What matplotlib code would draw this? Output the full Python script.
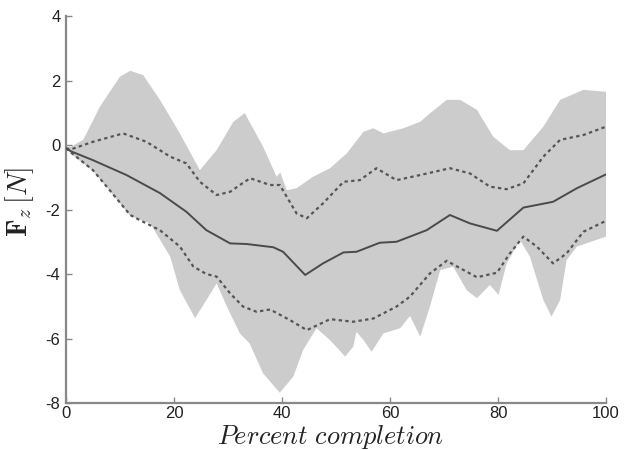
import numpy as np
import matplotlib
matplotlib.use("Agg")
import matplotlib.pyplot as plt

# mean force trace
x_mean = [0, 1, 5, 11.2, 17.4, 22.3, 26, 30.4, 33.5, 38.4, 40.2, 44.3, 47.6, 51.4,
          53.8, 58.1, 61.2, 63.7, 66.8, 71.1, 74.8, 79.8, 84.7, 90.2, 94.6, 100]
y_mean = [-0.1, -0.2, -0.47, -0.93, -1.49, -2.07, -2.64, -3.05, -3.07, -3.17, -3.31, -4.03, -3.67, -3.33,
          -3.31, -3.03, -3.0, -2.84, -2.64, -2.17, -2.43, -2.66, -1.94, -1.76, -1.34, -0.91]

# upper dotted (mean + std)
x_up = [0, 1, 5, 10.6, 14.9, 19.3, 22.3, 24.8, 27.9, 30.4, 32.2, 34.1, 37.8, 39.6, 42.7, 44.6,
        47.6, 51.4, 54.4, 57.5, 61.2, 65.6, 71.1, 74.8, 78.5, 81.6, 84.7, 88.4, 91.5, 95.8, 100]
y_up = [-0.1, -0.13, 0.1, 0.36, 0.1, -0.36, -0.57, -1.14, -1.55, -1.45, -1.24, -1.03, -1.24, -1.24, -2.12, -2.27,
        -1.81, -1.14, -1.09, -0.72, -1.09, -0.93, -0.72, -0.88, -1.29, -1.37, -1.19, -0.36, 0.16, 0.31, 0.57]

# lower dotted (mean - std)
x_lo = [0, 1, 5, 8.1, 11.9, 13.7, 17.4, 21.1, 23.6, 26, 27.9, 30.4, 32.8, 35.3, 37.8, 41.5, 44.6,
        48.9, 53.2, 56.9, 61.2, 63.7, 67.4, 70.5, 73, 76.1, 79.8, 82.2, 84.7, 87.2, 90.2, 92.7, 95.8, 100]
y_lo = [-0.1, -0.24, -0.78, -1.4, -2.17, -2.33, -2.64, -3.15, -3.77, -4.0, -4.08, -4.6, -5.01, -5.17, -5.1, -5.43, -5.74,
        -5.4, -5.48, -5.38, -5.01, -4.7, -3.98, -3.59, -3.82, -4.1, -3.96, -3.36, -2.84, -3.15, -3.67, -3.36, -2.69, -2.35]

# shaded range, upper edge
x_band_hi = [0, 1, 3.2, 6.3, 10, 11.9, 14.3, 17.4, 21.1, 24.8, 27.9, 31, 33.1, 36.5, 39, 39.7, 40.1,
             40.9, 42.7, 45.8, 48.9, 52, 55.1, 56.9, 58.8, 62.5, 65.6, 67.4, 70.5, 73, 76.1,
             79.1, 82.2, 84.7, 88.4, 91.5, 95.8, 100]
y_band_hi = [-0.1, -0.05, 0.16, 1.19, 2.12, 2.3, 2.17, 1.4, 0.36, -0.78, -0.16, 0.72, 0.99, -0.05, -0.98, -0.85, -1.05,
             -1.4, -1.34, -0.98, -0.72, -0.26, 0.41, 0.52, 0.36, 0.52, 0.72, 0.98, 1.4, 1.4, 1.09,
             0.26, -0.16, -0.16, 0.57, 1.4, 1.71, 1.65]

# shaded range, lower edge
x_band_lo = [0, 1, 5, 8.1, 11.9, 15.6, 19.3, 21.1, 23.9, 26, 27.9, 29.8, 32.2, 34, 36.5, 39.6, 42.1,
             43.9, 46.4, 48.9, 51.7, 53.2, 53.8, 55.1, 56.6, 58.8, 61.9, 63.7, 65.6, 67.4, 69.3,
             71.7, 74.2, 76.1, 78.5, 80.1, 81.6, 84.1, 85.9, 88.4, 89.9, 91.5, 92.7, 94.6, 100]
y_band_lo = [-0.1, -0.28, -0.8, -1.42, -2.2, -2.43, -3.46, -4.5, -5.37, -4.81, -4.29, -5.01, -5.84, -6.15, -7.08, -7.68, -7.18,
             -6.36, -5.68, -6.05, -6.56, -6.25, -5.79, -6.05, -6.41, -5.84, -5.68, -5.3, -5.94, -5.01, -3.88,
             -3.77, -4.5, -4.75, -4.34, -4.65, -3.67, -2.95, -3.46, -4.81, -5.32, -4.81, -3.57, -3.15, -2.84]

plt.rcParams['mathtext.fontset'] = 'cm'
plt.rcParams['font.family'] = ['Liberation Sans', 'DejaVu Sans']
plt.rcParams['axes.unicode_minus'] = False

fig = plt.figure(figsize=(6.28, 4.5), dpi=100)
ax = fig.add_axes([0.105, 0.1044, 0.86, 0.86])

ax.fill(np.r_[x_band_hi, x_band_lo[::-1]], np.r_[y_band_hi, y_band_lo[::-1]],
        color='#cccccc', lw=0, zorder=1)
ax.plot(x_up, y_up, color='#555555', lw=1.6, ls=(0, (1.5, 1.5)), zorder=2)
ax.plot(x_lo, y_lo, color='#555555', lw=1.6, ls=(0, (1.5, 1.5)), zorder=2)
ax.plot(x_mean, y_mean, color='#4a4a4a', lw=1.4, zorder=3)

ax.set_xlim(0, 100)
ax.set_ylim(-8, 4)
ax.set_xticks([0, 20, 40, 60, 80, 100])
ax.set_yticks([-8, -6, -4, -2, 0, 2, 4])
for s in ['top', 'right']:
    ax.spines[s].set_visible(False)
for s in ['left', 'bottom']:
    ax.spines[s].set_color('#888888')
    ax.spines[s].set_linewidth(1.6)
ax.tick_params(direction='in', length=4, width=1, color='#888888',
               labelsize=12, labelcolor='#222222')
ax.tick_params(axis='x', pad=2)
ax.tick_params(axis='y', pad=4)

ax.set_xlabel(r'$Percent\ completion$', fontsize=19, color='#222222')
ax.xaxis.set_label_coords(0.49, -0.052)
ax.xaxis.label.set_va('top')
ax.set_ylabel(r'$\mathbf{F}_z\,[N]$', fontsize=20, color='#222222')
ax.yaxis.set_label_coords(-0.055, 0.52)

fig.savefig('out.png', dpi=100)
